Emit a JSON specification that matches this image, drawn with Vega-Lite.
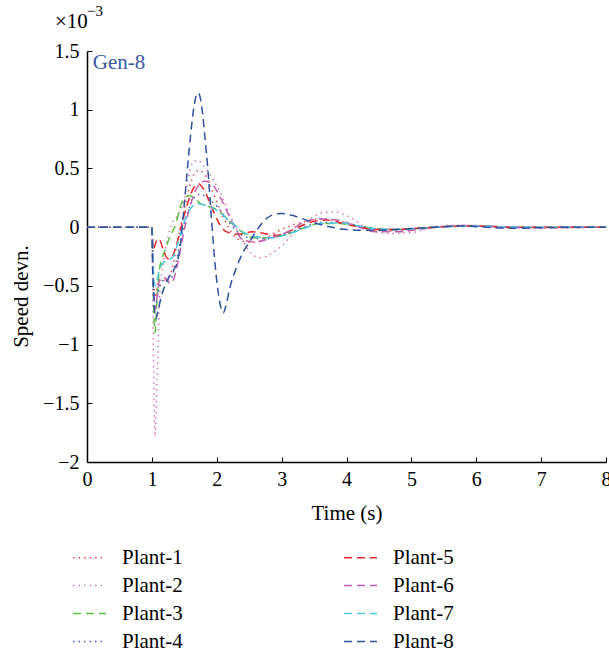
{
  "$schema": "https://vega.github.io/schema/vega-lite/v6.json",
  "autosize": "none",
  "width": 519,
  "height": 411,
  "padding": {"left": 87, "top": 51, "right": 3, "bottom": 190},
  "background": "white",
  "config": {
    "view": {"stroke": null},
    "font": "Liberation Serif"
  },
  "layer": [
    {
      "data": {
        "values": [
          {"plant":"Plant-1","time":0,"speed":0},{"plant":"Plant-1","time":1,"speed":0},{"plant":"Plant-1","time":1.02,"speed":-0.4},{"plant":"Plant-1","time":1.05,"speed":-0.6},{"plant":"Plant-1","time":1.1,"speed":-0.45},{"plant":"Plant-1","time":1.2,"speed":-0.45},{"plant":"Plant-1","time":1.3,"speed":-0.38},{"plant":"Plant-1","time":1.4,"speed":-0.1},{"plant":"Plant-1","time":1.5,"speed":0.15},{"plant":"Plant-1","time":1.6,"speed":0.38},{"plant":"Plant-1","time":1.7,"speed":0.48},{"plant":"Plant-1","time":1.78,"speed":0.47},{"plant":"Plant-1","time":1.9,"speed":0.35},{"plant":"Plant-1","time":2.05,"speed":0.15},{"plant":"Plant-1","time":2.2,"speed":-0.02},{"plant":"Plant-1","time":2.4,"speed":-0.12},{"plant":"Plant-1","time":2.6,"speed":-0.13},{"plant":"Plant-1","time":2.8,"speed":-0.08},{"plant":"Plant-1","time":3.0,"speed":-0.02},{"plant":"Plant-1","time":3.3,"speed":0.04},{"plant":"Plant-1","time":3.6,"speed":0.07},{"plant":"Plant-1","time":3.9,"speed":0.05},{"plant":"Plant-1","time":4.2,"speed":0.01},{"plant":"Plant-1","time":4.5,"speed":-0.03},{"plant":"Plant-1","time":4.8,"speed":-0.03},{"plant":"Plant-1","time":5.1,"speed":-0.01},{"plant":"Plant-1","time":5.5,"speed":0.005},{"plant":"Plant-1","time":6,"speed":0.01},{"plant":"Plant-1","time":6.5,"speed":0},{"plant":"Plant-1","time":7,"speed":-0.005},{"plant":"Plant-1","time":8,"speed":0},

          {"plant":"Plant-2","time":0,"speed":0},{"plant":"Plant-2","time":1,"speed":0},{"plant":"Plant-2","time":1.02,"speed":-0.9},{"plant":"Plant-2","time":1.05,"speed":-1.78},{"plant":"Plant-2","time":1.08,"speed":-1.3},{"plant":"Plant-2","time":1.12,"speed":-0.6},{"plant":"Plant-2","time":1.18,"speed":-0.3},{"plant":"Plant-2","time":1.25,"speed":-0.08},{"plant":"Plant-2","time":1.3,"speed":0.02},{"plant":"Plant-2","time":1.4,"speed":0.1},{"plant":"Plant-2","time":1.48,"speed":0.2},{"plant":"Plant-2","time":1.55,"speed":0.38},{"plant":"Plant-2","time":1.62,"speed":0.54},{"plant":"Plant-2","time":1.7,"speed":0.57},{"plant":"Plant-2","time":1.8,"speed":0.52},{"plant":"Plant-2","time":1.95,"speed":0.4},{"plant":"Plant-2","time":2.05,"speed":0.3},{"plant":"Plant-2","time":2.15,"speed":0.17},{"plant":"Plant-2","time":2.25,"speed":0.05},{"plant":"Plant-2","time":2.36,"speed":-0.07},{"plant":"Plant-2","time":2.46,"speed":-0.17},{"plant":"Plant-2","time":2.56,"speed":-0.24},{"plant":"Plant-2","time":2.7,"speed":-0.26},{"plant":"Plant-2","time":2.85,"speed":-0.22},{"plant":"Plant-2","time":3.02,"speed":-0.15},{"plant":"Plant-2","time":3.18,"speed":-0.05},{"plant":"Plant-2","time":3.33,"speed":0.03},{"plant":"Plant-2","time":3.5,"speed":0.09},{"plant":"Plant-2","time":3.65,"speed":0.125},{"plant":"Plant-2","time":3.82,"speed":0.13},{"plant":"Plant-2","time":3.95,"speed":0.11},{"plant":"Plant-2","time":4.1,"speed":0.07},{"plant":"Plant-2","time":4.31,"speed":-0.01},{"plant":"Plant-2","time":4.5,"speed":-0.045},{"plant":"Plant-2","time":4.7,"speed":-0.055},{"plant":"Plant-2","time":4.9,"speed":-0.05},{"plant":"Plant-2","time":5.08,"speed":-0.04},{"plant":"Plant-2","time":5.28,"speed":0.0},{"plant":"Plant-2","time":5.5,"speed":0.012},{"plant":"Plant-2","time":5.75,"speed":0.017},{"plant":"Plant-2","time":6.06,"speed":0.01},{"plant":"Plant-2","time":6.47,"speed":-0.01},{"plant":"Plant-2","time":7,"speed":-0.005},{"plant":"Plant-2","time":8,"speed":0},

          {"plant":"Plant-3","time":0,"speed":0},{"plant":"Plant-3","time":1,"speed":0},{"plant":"Plant-3","time":1.02,"speed":-0.5},{"plant":"Plant-3","time":1.05,"speed":-0.9},{"plant":"Plant-3","time":1.08,"speed":-0.6},{"plant":"Plant-3","time":1.12,"speed":-0.35},{"plant":"Plant-3","time":1.2,"speed":-0.2},{"plant":"Plant-3","time":1.28,"speed":-0.08},{"plant":"Plant-3","time":1.35,"speed":0.0},{"plant":"Plant-3","time":1.48,"speed":0.23},{"plant":"Plant-3","time":1.58,"speed":0.27},{"plant":"Plant-3","time":1.65,"speed":0.25},{"plant":"Plant-3","time":1.75,"speed":0.2},{"plant":"Plant-3","time":1.85,"speed":0.18},{"plant":"Plant-3","time":2.0,"speed":0.15},{"plant":"Plant-3","time":2.2,"speed":0.05},{"plant":"Plant-3","time":2.36,"speed":-0.03},{"plant":"Plant-3","time":2.56,"speed":-0.09},{"plant":"Plant-3","time":2.8,"speed":-0.09},{"plant":"Plant-3","time":3.08,"speed":-0.06},{"plant":"Plant-3","time":3.33,"speed":-0.01},{"plant":"Plant-3","time":3.6,"speed":0.03},{"plant":"Plant-3","time":3.9,"speed":0.03},{"plant":"Plant-3","time":4.1,"speed":0.017},{"plant":"Plant-3","time":4.4,"speed":-0.01},{"plant":"Plant-3","time":4.7,"speed":-0.02},{"plant":"Plant-3","time":5.0,"speed":-0.015},{"plant":"Plant-3","time":5.5,"speed":0.005},{"plant":"Plant-3","time":6,"speed":0.01},{"plant":"Plant-3","time":6.5,"speed":0},{"plant":"Plant-3","time":8,"speed":0},

          {"plant":"Plant-4","time":0,"speed":0},{"plant":"Plant-4","time":1,"speed":0},{"plant":"Plant-4","time":1.03,"speed":-0.6},{"plant":"Plant-4","time":1.06,"speed":-0.65},{"plant":"Plant-4","time":1.12,"speed":-0.5},{"plant":"Plant-4","time":1.2,"speed":-0.45},{"plant":"Plant-4","time":1.28,"speed":-0.45},{"plant":"Plant-4","time":1.35,"speed":-0.35},{"plant":"Plant-4","time":1.45,"speed":-0.1},{"plant":"Plant-4","time":1.55,"speed":0.12},{"plant":"Plant-4","time":1.65,"speed":0.25},{"plant":"Plant-4","time":1.75,"speed":0.28},{"plant":"Plant-4","time":1.85,"speed":0.25},{"plant":"Plant-4","time":2.0,"speed":0.18},{"plant":"Plant-4","time":2.15,"speed":0.07},{"plant":"Plant-4","time":2.3,"speed":-0.03},{"plant":"Plant-4","time":2.5,"speed":-0.09},{"plant":"Plant-4","time":2.75,"speed":-0.1},{"plant":"Plant-4","time":3.0,"speed":-0.07},{"plant":"Plant-4","time":3.3,"speed":-0.01},{"plant":"Plant-4","time":3.6,"speed":0.04},{"plant":"Plant-4","time":3.9,"speed":0.04},{"plant":"Plant-4","time":4.2,"speed":0.01},{"plant":"Plant-4","time":4.5,"speed":-0.02},{"plant":"Plant-4","time":4.8,"speed":-0.02},{"plant":"Plant-4","time":5.2,"speed":-0.01},{"plant":"Plant-4","time":5.7,"speed":0.01},{"plant":"Plant-4","time":6.2,"speed":0.005},{"plant":"Plant-4","time":8,"speed":0},

          {"plant":"Plant-5","time":0,"speed":0},{"plant":"Plant-5","time":1,"speed":0},{"plant":"Plant-5","time":1.02,"speed":-0.2},{"plant":"Plant-5","time":1.05,"speed":-0.15},{"plant":"Plant-5","time":1.09,"speed":-0.1},{"plant":"Plant-5","time":1.13,"speed":-0.12},{"plant":"Plant-5","time":1.18,"speed":-0.2},{"plant":"Plant-5","time":1.25,"speed":-0.27},{"plant":"Plant-5","time":1.3,"speed":-0.26},{"plant":"Plant-5","time":1.38,"speed":-0.15},{"plant":"Plant-5","time":1.45,"speed":0.0},{"plant":"Plant-5","time":1.55,"speed":0.2},{"plant":"Plant-5","time":1.65,"speed":0.34},{"plant":"Plant-5","time":1.72,"speed":0.37},{"plant":"Plant-5","time":1.8,"speed":0.32},{"plant":"Plant-5","time":1.9,"speed":0.2},{"plant":"Plant-5","time":2.0,"speed":0.07},{"plant":"Plant-5","time":2.1,"speed":-0.02},{"plant":"Plant-5","time":2.2,"speed":-0.05},{"plant":"Plant-5","time":2.35,"speed":-0.06},{"plant":"Plant-5","time":2.55,"speed":-0.04},{"plant":"Plant-5","time":2.7,"speed":-0.05},{"plant":"Plant-5","time":2.9,"speed":-0.07},{"plant":"Plant-5","time":3.1,"speed":-0.04},{"plant":"Plant-5","time":3.3,"speed":0.01},{"plant":"Plant-5","time":3.5,"speed":0.05},{"plant":"Plant-5","time":3.7,"speed":0.06},{"plant":"Plant-5","time":3.95,"speed":0.03},{"plant":"Plant-5","time":4.2,"speed":0.0},{"plant":"Plant-5","time":4.5,"speed":-0.02},{"plant":"Plant-5","time":4.8,"speed":-0.02},{"plant":"Plant-5","time":5.1,"speed":-0.01},{"plant":"Plant-5","time":5.6,"speed":0.005},{"plant":"Plant-5","time":6,"speed":0.01},{"plant":"Plant-5","time":6.5,"speed":0},{"plant":"Plant-5","time":8,"speed":0},

          {"plant":"Plant-6","time":0,"speed":0},{"plant":"Plant-6","time":1,"speed":0},{"plant":"Plant-6","time":1.02,"speed":-0.4},{"plant":"Plant-6","time":1.05,"speed":-0.7},{"plant":"Plant-6","time":1.08,"speed":-0.6},{"plant":"Plant-6","time":1.12,"speed":-0.45},{"plant":"Plant-6","time":1.2,"speed":-0.43},{"plant":"Plant-6","time":1.28,"speed":-0.48},{"plant":"Plant-6","time":1.35,"speed":-0.42},{"plant":"Plant-6","time":1.42,"speed":-0.25},{"plant":"Plant-6","time":1.5,"speed":-0.02},{"plant":"Plant-6","time":1.6,"speed":0.2},{"plant":"Plant-6","time":1.7,"speed":0.34},{"plant":"Plant-6","time":1.8,"speed":0.39},{"plant":"Plant-6","time":1.9,"speed":0.38},{"plant":"Plant-6","time":2.0,"speed":0.31},{"plant":"Plant-6","time":2.05,"speed":0.26},{"plant":"Plant-6","time":2.17,"speed":0.12},{"plant":"Plant-6","time":2.28,"speed":0.0},{"plant":"Plant-6","time":2.4,"speed":-0.11},{"plant":"Plant-6","time":2.6,"speed":-0.125},{"plant":"Plant-6","time":2.82,"speed":-0.095},{"plant":"Plant-6","time":3.13,"speed":-0.03},{"plant":"Plant-6","time":3.33,"speed":0.04},{"plant":"Plant-6","time":3.6,"speed":0.07},{"plant":"Plant-6","time":3.85,"speed":0.06},{"plant":"Plant-6","time":4.1,"speed":0.02},{"plant":"Plant-6","time":4.45,"speed":-0.04},{"plant":"Plant-6","time":4.82,"speed":-0.04},{"plant":"Plant-6","time":5.1,"speed":-0.02},{"plant":"Plant-6","time":5.5,"speed":0.005},{"plant":"Plant-6","time":5.8,"speed":0.015},{"plant":"Plant-6","time":6.2,"speed":0.01},{"plant":"Plant-6","time":6.5,"speed":0},{"plant":"Plant-6","time":7,"speed":-0.005},{"plant":"Plant-6","time":8,"speed":0},

          {"plant":"Plant-7","time":0,"speed":0},{"plant":"Plant-7","time":1,"speed":0},{"plant":"Plant-7","time":1.03,"speed":-0.45},{"plant":"Plant-7","time":1.06,"speed":-0.5},{"plant":"Plant-7","time":1.1,"speed":-0.4},{"plant":"Plant-7","time":1.18,"speed":-0.3},{"plant":"Plant-7","time":1.25,"speed":-0.28},{"plant":"Plant-7","time":1.33,"speed":-0.25},{"plant":"Plant-7","time":1.42,"speed":-0.1},{"plant":"Plant-7","time":1.5,"speed":0.05},{"plant":"Plant-7","time":1.6,"speed":0.16},{"plant":"Plant-7","time":1.7,"speed":0.2},{"plant":"Plant-7","time":1.8,"speed":0.19},{"plant":"Plant-7","time":1.95,"speed":0.16},{"plant":"Plant-7","time":2.1,"speed":0.1},{"plant":"Plant-7","time":2.25,"speed":0.03},{"plant":"Plant-7","time":2.4,"speed":-0.04},{"plant":"Plant-7","time":2.6,"speed":-0.08},{"plant":"Plant-7","time":2.85,"speed":-0.09},{"plant":"Plant-7","time":3.1,"speed":-0.06},{"plant":"Plant-7","time":3.35,"speed":-0.01},{"plant":"Plant-7","time":3.6,"speed":0.03},{"plant":"Plant-7","time":3.9,"speed":0.035},{"plant":"Plant-7","time":4.2,"speed":0.01},{"plant":"Plant-7","time":4.5,"speed":-0.015},{"plant":"Plant-7","time":4.8,"speed":-0.02},{"plant":"Plant-7","time":5.1,"speed":-0.01},{"plant":"Plant-7","time":5.6,"speed":0.005},{"plant":"Plant-7","time":6,"speed":0.01},{"plant":"Plant-7","time":6.5,"speed":0},{"plant":"Plant-7","time":8,"speed":0},

          {"plant":"Plant-8","time":0,"speed":0},{"plant":"Plant-8","time":1,"speed":0},{"plant":"Plant-8","time":1.01,"speed":-0.3},{"plant":"Plant-8","time":1.03,"speed":-0.6},{"plant":"Plant-8","time":1.06,"speed":-0.78},{"plant":"Plant-8","time":1.1,"speed":-0.7},{"plant":"Plant-8","time":1.15,"speed":-0.58},{"plant":"Plant-8","time":1.2,"speed":-0.5},{"plant":"Plant-8","time":1.27,"speed":-0.42},{"plant":"Plant-8","time":1.33,"speed":-0.37},{"plant":"Plant-8","time":1.4,"speed":-0.28},{"plant":"Plant-8","time":1.45,"speed":-0.1},{"plant":"Plant-8","time":1.5,"speed":0.2},{"plant":"Plant-8","time":1.56,"speed":0.57},{"plant":"Plant-8","time":1.6,"speed":0.8},{"plant":"Plant-8","time":1.65,"speed":1.03},{"plant":"Plant-8","time":1.7,"speed":1.14},{"plant":"Plant-8","time":1.72,"speed":1.14},{"plant":"Plant-8","time":1.77,"speed":1.02},{"plant":"Plant-8","time":1.82,"speed":0.75},{"plant":"Plant-8","time":1.86,"speed":0.51},{"plant":"Plant-8","time":1.92,"speed":0.06},{"plant":"Plant-8","time":1.98,"speed":-0.35},{"plant":"Plant-8","time":2.04,"speed":-0.62},{"plant":"Plant-8","time":2.1,"speed":-0.73},{"plant":"Plant-8","time":2.15,"speed":-0.65},{"plant":"Plant-8","time":2.2,"speed":-0.52},{"plant":"Plant-8","time":2.3,"speed":-0.35},{"plant":"Plant-8","time":2.4,"speed":-0.22},{"plant":"Plant-8","time":2.51,"speed":-0.12},{"plant":"Plant-8","time":2.6,"speed":-0.04},{"plant":"Plant-8","time":2.77,"speed":0.076},{"plant":"Plant-8","time":2.9,"speed":0.11},{"plant":"Plant-8","time":3.0,"speed":0.117},{"plant":"Plant-8","time":3.2,"speed":0.095},{"plant":"Plant-8","time":3.38,"speed":0.06},{"plant":"Plant-8","time":3.55,"speed":0.03},{"plant":"Plant-8","time":3.74,"speed":0.003},{"plant":"Plant-8","time":4.0,"speed":-0.02},{"plant":"Plant-8","time":4.16,"speed":-0.026},{"plant":"Plant-8","time":4.5,"speed":-0.026},{"plant":"Plant-8","time":4.8,"speed":-0.018},{"plant":"Plant-8","time":5.08,"speed":-0.01},{"plant":"Plant-8","time":5.49,"speed":0.003},{"plant":"Plant-8","time":5.75,"speed":0.01},{"plant":"Plant-8","time":6.16,"speed":0},{"plant":"Plant-8","time":6.52,"speed":-0.01},{"plant":"Plant-8","time":7,"speed":-0.005},{"plant":"Plant-8","time":7.5,"speed":0},{"plant":"Plant-8","time":8,"speed":0}
        ]
      },
      "mark": {"type": "line", "interpolate": "monotone", "strokeWidth": 1.5, "clip": true},
      "encoding": {
        "x": {
          "field": "time", "type": "quantitative",
          "scale": {"domain": [0, 8], "nice": false, "zero": false},
          "axis": {
            "title": "Time (s)", "values": [0,1,2,3,4,5,6,7,8], "format": "~g",
            "grid": false, "domainColor": "black", "domainWidth": 1.5,
            "tickColor": "black", "tickSize": -5, "tickWidth": 1,
            "labelFont": "Liberation Serif", "labelFontSize": 20, "labelColor": "black",
            "labelPadding": 12, "labelFlush": false, "labelOverlap": false,
            "titleFont": "Liberation Serif", "titleFontSize": 21, "titleFontWeight": "normal",
            "titleColor": "black", "titlePadding": 13
          }
        },
        "y": {
          "field": "speed", "type": "quantitative",
          "scale": {"domain": [-2, 1.5], "nice": false, "zero": false},
          "axis": {
            "title": "Speed devn.", "values": [-2,-1.5,-1,-0.5,0,0.5,1,1.5], "format": "~g",
            "grid": false, "domainColor": "black", "domainWidth": 1.5,
            "tickColor": "black", "tickSize": -5, "tickWidth": 1,
            "labelFont": "Liberation Serif", "labelFontSize": 20, "labelColor": "black",
            "labelPadding": 13, "labelFlush": false, "labelOverlap": false,
            "titleFont": "Liberation Serif", "titleFontSize": 21, "titleFontWeight": "normal",
            "titleColor": "black", "titlePadding": 11, "titleY": 245
          }
        },
        "color": {
          "field": "plant", "type": "nominal",
          "scale": {
            "domain": ["Plant-1","Plant-2","Plant-3","Plant-4","Plant-5","Plant-6","Plant-7","Plant-8"],
            "range": ["#e84848","#d878c0","#5cc040","#4060c0","#e82828","#c060b0","#50c8e0","#3050a0"]
          },
          "legend": {
            "title": null, "orient": "none", "legendX": -15, "legendY": 489,
            "columns": 2, "columnPadding": 158, "rowPadding": -6,
            "symbolType": "stroke", "symbolSize": 1089, "symbolStrokeWidth": 1.5,
            "labelFont": "Liberation Serif", "labelFontSize": 21, "labelColor": "black",
            "labelOffset": 15, "labelLimit": 200
          }
        },
        "strokeDash": {
          "field": "plant", "type": "nominal",
          "scale": {
            "domain": ["Plant-1","Plant-2","Plant-3","Plant-4","Plant-5","Plant-6","Plant-7","Plant-8"],
            "range": [[1.5,4],[1.5,4],[8,5],[1.5,4],[8,5],[8,5],[8,5],[8,5]]
          },
          "legend": {
            "title": null, "orient": "none", "legendX": -15, "legendY": 489,
            "columns": 2, "columnPadding": 158, "rowPadding": -6,
            "symbolType": "stroke", "symbolSize": 1089, "symbolStrokeWidth": 1.5,
            "labelFont": "Liberation Serif", "labelFontSize": 21, "labelColor": "black",
            "labelOffset": 15, "labelLimit": 200
          }
        }
      }
    },
    {
      "data": {"values": [{"time": 0.09, "speed": 1.4, "label": "Gen-8"}]},
      "mark": {"type": "text", "align": "left", "baseline": "middle", "font": "Liberation Serif", "fontSize": 21, "color": "#3a5aa8"},
      "encoding": {
        "x": {"field": "time", "type": "quantitative"},
        "y": {"field": "speed", "type": "quantitative"},
        "text": {"field": "label"}
      }
    },
    {
      "data": {"values": [{"time": -0.493, "speed": 1.7, "label": "×10"}]},
      "mark": {"type": "text", "align": "left", "baseline": "alphabetic", "font": "Liberation Serif", "fontSize": 21, "color": "black", "clip": false},
      "encoding": {
        "x": {"field": "time", "type": "quantitative"},
        "y": {"field": "speed", "type": "quantitative"},
        "text": {"field": "label"}
      }
    },
    {
      "data": {"values": [{"time": 0.0, "speed": 1.8, "label": "−3"}]},
      "mark": {"type": "text", "align": "left", "baseline": "alphabetic", "font": "Liberation Serif", "fontSize": 15, "color": "black", "clip": false},
      "encoding": {
        "x": {"field": "time", "type": "quantitative"},
        "y": {"field": "speed", "type": "quantitative"},
        "text": {"field": "label"}
      }
    }
  ]
}
